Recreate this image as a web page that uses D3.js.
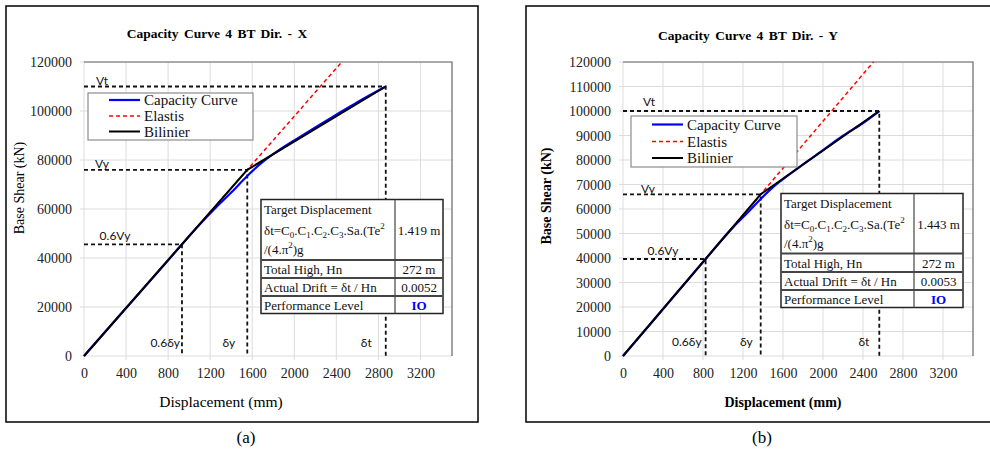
<!DOCTYPE html>
<html><head><meta charset="utf-8">
<script src="https://cdn.jsdelivr.net/npm/d3@7"></script>
<style>
body{margin:0;background:#fff;}
svg{display:block;}
</style></head>
<body>
<svg id="c" width="990" height="449"></svg>
<script>
// ---------- DATA ----------
const titles = ["Capacity Curve 4 BT Dir. - X", "Capacity Curve 4 BT Dir. - Y"];
const captions = ["(a)", "(b)"];
const xTicks = [0, 400, 800, 1200, 1600, 2000, 2400, 2800, 3200];
const yTicksX = [0, 20000, 40000, 60000, 80000, 100000, 120000];
const yTicksY = [0, 10000, 20000, 30000, 40000, 50000, 60000, 70000, 80000, 90000, 100000, 110000, 120000];
const legendLabels = ["Capacity Curve", "Elastis", "Bilinier"];

// Direction X
const capDispX  = [0, 400, 800, 1100, 1250, 1400, 1550, 1700, 1850, 2000, 2200, 2400, 2600, 2870];
const capShearX = [0, 19560, 39100, 53700, 60400, 66700, 73400, 79200, 83900, 88000, 93300, 98500, 103600, 110000];
const bilDispX  = [0, 1553, 2870];
const bilShearX = [0, 76000, 110000];
const elaDispX  = [0, 2452];
const elaShearX = [0, 120000];
const targetX   = ["1.419 m", "272 m", "0.0052", "IO"];

// Direction Y
const capDispY  = [0, 400, 800, 1100, 1250, 1380, 1500, 1650, 1800, 2000, 2200, 2400, 2563];
const capShearY = [0, 19170, 38340, 52500, 58700, 64200, 68900, 73700, 78200, 84000, 89900, 95100, 100000];
const bilDispY  = [0, 1377, 2563];
const bilShearY = [0, 66000, 100000];
const elaDispY  = [0, 2504];
const elaShearY = [0, 120000];
const targetY   = ["1.443 m", "272 m", "0.0053", "IO"];

const tableLabels = ["Total High, Hn", "Actual Drift = \u03b4t / Hn", "Performance Level"];

// ---------- LAYOUT ----------
const charts = [
  {title: titles[0], caption: captions[0], yTicks: yTicksX, bold: false,
   frame: [6, 6, 478, 422], plot: [84, 62, 452, 356],
   titleX: 217, titleY: 38, xlabX: 221, xlabSize: 15.5, capX: 246,
   capD: capDispX, capV: capShearX, bilD: bilDispX, bilV: bilShearX, elaD: elaDispX, elaV: elaShearX,
   target: targetX,
   legend: [88, 93, 253, 140], legRows: [100, 116, 131.5], legLine: [109, 140],
   table: [261, 199.5, 443, 313.5], tabCol: 395, tabSeps: [260, 278, 296], tabText: [209, 230, 249, 269, 287, 305],
   lab: {vt: [18, -2], vy: [18, -2], v6: [16, -4], d6: -2, dy: -12, dt: -14, dyy: 347}},
  {title: titles[1], caption: captions[1], yTicks: yTicksY, bold: true,
   frame: [526, 6, 994, 422], plot: [623, 62, 973, 356],
   titleX: 748, titleY: 40, xlabX: 783, xlabSize: 14, capX: 762,
   capD: capDispY, capV: capShearY, bilD: bilDispY, bilV: bilShearY, elaD: elaDispY, elaV: elaShearY,
   target: targetY,
   legend: [631, 116, 797, 167], legRows: [124.5, 141.5, 158], legLine: [652, 683],
   table: [781, 193.5, 963, 307.5], tabCol: 914, tabSeps: [253.5, 272, 290], tabText: [203, 224, 243, 263, 281, 299],
   lab: {vt: [26, -5], vy: [25, -1], v6: [25, -4], d6: -4, dy: -8, dt: -10, dyy: 346}}
];

const svg = d3.select("#c");
const serif = "'Liberation Serif','Times New Roman',serif";
const sans = "Lato,'Liberation Sans',sans-serif";

charts.forEach(cfg => {
  const g = svg.append("g");
  const [fx0, fy0, fx1, fy1] = cfg.frame;
  g.append("rect").attr("x", fx0).attr("y", fy0).attr("width", fx1 - fx0).attr("height", fy1 - fy0)
    .attr("fill", "#fff").attr("stroke", "#000").attr("stroke-width", 1.5);

  const [px0, py0, px1, py1] = cfg.plot;
  const x = d3.scaleLinear().domain([0, 3500]).range([px0, px1]);
  const y = d3.scaleLinear().domain([0, 120000]).range([py1, py0]);

  // gridlines + ticks
  const grid = g.append("g");
  grid.selectAll(".vg").data(xTicks).join("line")
    .attr("x1", d => x(d)).attr("x2", d => x(d)).attr("y1", py0).attr("y2", py1 + 4)
    .attr("stroke", "#dcdcdc").attr("stroke-width", 1);
  grid.selectAll(".hg").data(cfg.yTicks).join("line")
    .attr("x1", px0 - 4).attr("x2", px1).attr("y1", d => y(d)).attr("y2", d => y(d))
    .attr("stroke", "#dcdcdc").attr("stroke-width", 1);
  // plot border top & right
  g.append("path").attr("d", `M${px0},${py0}H${px1}V${py1}`).attr("fill", "none")
    .attr("stroke", "#666").attr("stroke-width", 1.2);

  // axes via d3
  const xAxis = d3.axisBottom(x).tickValues(xTicks).tickSize(0).tickPadding(0).tickFormat(d3.format("d"));
  const ga = g.append("g").attr("transform", `translate(0,${py1 + 12})`).call(xAxis);
  ga.select(".domain").remove();
  ga.selectAll("text").attr("font-family", serif).attr("font-size", 14).attr("fill", "#222").attr("dy", "0.72em");
  const yAxis = d3.axisLeft(y).tickValues(cfg.yTicks).tickSize(0).tickPadding(0).tickFormat(d3.format("d"));
  const gy = g.append("g").attr("transform", `translate(${px0 - 12},0)`).call(yAxis);
  gy.select(".domain").remove();
  gy.selectAll("text").attr("font-family", serif).attr("font-size", 14).attr("fill", "#222").attr("dy", "0.35em");

  // titles
  g.append("text").attr("x", cfg.titleX).attr("y", cfg.titleY).attr("text-anchor", "middle")
    .attr("font-family", serif).attr("font-weight", "bold").attr("font-size", 13.5).attr("word-spacing", 2)
    .text(cfg.title);
  g.append("text").attr("x", cfg.xlabX).attr("y", 407).attr("text-anchor", "middle")
    .attr("font-family", serif).attr("font-size", cfg.xlabSize).attr("font-weight", cfg.bold ? "bold" : "normal")
    .text("Displacement (mm)");
  const ylc = cfg.bold ? 196 : 188;
  const ylx = cfg.bold ? fx0 + 25 : fx0 + 18;
  g.append("text").attr("transform", `translate(${ylx},${ylc}) rotate(-90)`).attr("text-anchor", "middle")
    .attr("font-family", serif).attr("font-size", 14).attr("font-weight", cfg.bold ? "bold" : "normal")
    .text("Base Shear (kN)");
  svg.append("text").attr("x", cfg.capX).attr("y", 443).attr("text-anchor", "middle")
    .attr("font-family", serif).attr("font-size", 17).text(cfg.caption);

  // guide dashed lines
  const Vy = cfg.bilV[1], Dy = cfg.bilD[1], Vt = cfg.bilV[2], Dt = cfg.bilD[2];
  const guides = g.append("g").attr("stroke", "#111").attr("stroke-width", 1.8)
    .attr("stroke-dasharray", "4,3").attr("fill", "none");
  [[Dt, Vt], [Dy, Vy], [0.6 * Dy, 0.6 * Vy]].forEach(([d, v]) => {
    guides.append("path").attr("d", `M${x(0)},${y(v)}H${x(d)}V${y(0)}`);
  });

  const line = d3.line().x(d => x(d[0])).y(d => y(d[1]));
  const zip = (a, b) => a.map((v, i) => [v, b[i]]);
  g.append("path").datum(zip(cfg.elaD, cfg.elaV)).attr("d", line).attr("fill", "none")
    .attr("stroke", "#ff0000").attr("stroke-width", 1.5).attr("stroke-dasharray", "4,3");
  g.append("path").datum(zip(cfg.capD, cfg.capV)).attr("d", line.curve(d3.curveMonotoneX)).attr("fill", "none")
    .attr("stroke", "#0000ff").attr("stroke-width", 2.2);
  line.curve(d3.curveLinear);
  g.append("path").datum(zip(cfg.bilD, cfg.bilV)).attr("d", line).attr("fill", "none")
    .attr("stroke", "#000").attr("stroke-width", 2);

  // annotation labels
  const lab = g.append("g").attr("font-family", sans).attr("font-size", 12).attr("fill", "#111");
  lab.append("text").attr("x", x(0) + cfg.lab.vt[0]).attr("y", y(Vt) + cfg.lab.vt[1]).attr("text-anchor", "middle").text("Vt");
  lab.append("text").attr("x", x(0) + cfg.lab.vy[0]).attr("y", y(Vy) + cfg.lab.vy[1]).attr("text-anchor", "middle").text("Vy");
  lab.append("text").attr("x", x(0) + cfg.lab.v6[0] + 15).attr("y", y(0.6 * Vy) + cfg.lab.v6[1]).attr("text-anchor", "middle").text("0.6Vy");
  lab.append("text").attr("x", x(0.6 * Dy) + cfg.lab.d6).attr("y", cfg.lab.dyy).attr("text-anchor", "end").text("0.6\u03b4y");
  lab.append("text").attr("x", x(Dy) + cfg.lab.dy).attr("y", cfg.lab.dyy).attr("text-anchor", "end").text("\u03b4y");
  lab.append("text").attr("x", x(Dt) + cfg.lab.dt).attr("y", cfg.lab.dyy).attr("text-anchor", "end").text("\u03b4t");

  // legend
  const [lx0, ly0, lx1, ly1] = cfg.legend;
  g.append("rect").attr("x", lx0).attr("y", ly0).attr("width", lx1 - lx0).attr("height", ly1 - ly0)
    .attr("fill", "#fff").attr("stroke", "#8c8c8c").attr("stroke-width", 1.2);
  const legStyles = [{c: "#0000ff", d: null, w: 2.2}, {c: "#ff0000", d: "4,3", w: 1.5}, {c: "#000", d: null, w: 2}];
  legendLabels.forEach((t, i) => {
    const yy = cfg.legRows[i];
    g.append("line").attr("x1", cfg.legLine[0]).attr("x2", cfg.legLine[1]).attr("y1", yy).attr("y2", yy)
      .attr("stroke", legStyles[i].c).attr("stroke-width", legStyles[i].w).attr("stroke-dasharray", legStyles[i].d);
    g.append("text").attr("x", cfg.legLine[1] + 4).attr("y", yy + 5).attr("font-family", serif)
      .attr("font-size", 15).attr("fill", "#111").text(t);
  });

  // table
  const [tx0, ty0, tx1, ty1] = cfg.table;
  const tg = g.append("g");
  tg.append("rect").attr("x", tx0).attr("y", ty0).attr("width", tx1 - tx0).attr("height", ty1 - ty0)
    .attr("fill", "#fff").attr("stroke", "#222").attr("stroke-width", 1.5);
  tg.append("line").attr("x1", cfg.tabCol).attr("x2", cfg.tabCol).attr("y1", ty0).attr("y2", ty1)
    .attr("stroke", "#444").attr("stroke-width", 1.2);
  cfg.tabSeps.forEach(s => tg.append("line").attr("x1", tx0).attr("x2", tx1).attr("y1", s).attr("y2", s)
    .attr("stroke", "#444").attr("stroke-width", 2));
  const tt = tg.append("g").attr("font-family", serif).attr("font-size", 13).attr("fill", "#111");
  const lx = tx0 + 3, vc = (cfg.tabCol + tx1) / 2, b = 4.5;
  tt.append("text").attr("x", lx).attr("y", cfg.tabText[0] + b).text("Target Displacement");
  const f = tt.append("text").attr("x", lx).attr("y", cfg.tabText[1] + b);
  f.append("tspan").text("\u03b4t=C");
  ["0", "1", "2", "3"].forEach((s, i) => {
    f.append("tspan").attr("font-size", 9).attr("dy", 3).text(s);
    f.append("tspan").attr("dy", -3).text(i < 3 ? ".C" : ".Sa.(Te");
  });
  f.append("tspan").attr("font-size", 9).attr("dy", -6).text("2");
  const f2 = tt.append("text").attr("x", lx).attr("y", cfg.tabText[2] + b);
  f2.append("tspan").text("/(4.\u03c0");
  f2.append("tspan").attr("font-size", 9).attr("dy", -6).text("2");
  f2.append("tspan").attr("dy", 6).text(")g");
  tableLabels.forEach((t, i) => tt.append("text").attr("x", lx).attr("y", cfg.tabText[3 + i] + b).text(t));
  tt.append("text").attr("x", vc).attr("y", cfg.tabText[1] + b).attr("text-anchor", "middle").text(cfg.target[0]);
  [1, 2].forEach(i => tt.append("text").attr("x", vc).attr("y", cfg.tabText[2 + i] + b).attr("text-anchor", "middle").text(cfg.target[i]));
  tt.append("text").attr("x", vc).attr("y", cfg.tabText[5] + b).attr("text-anchor", "middle")
    .attr("fill", "#0000ff").attr("font-weight", "bold").text(cfg.target[3]);
});
</script>
</body></html>
